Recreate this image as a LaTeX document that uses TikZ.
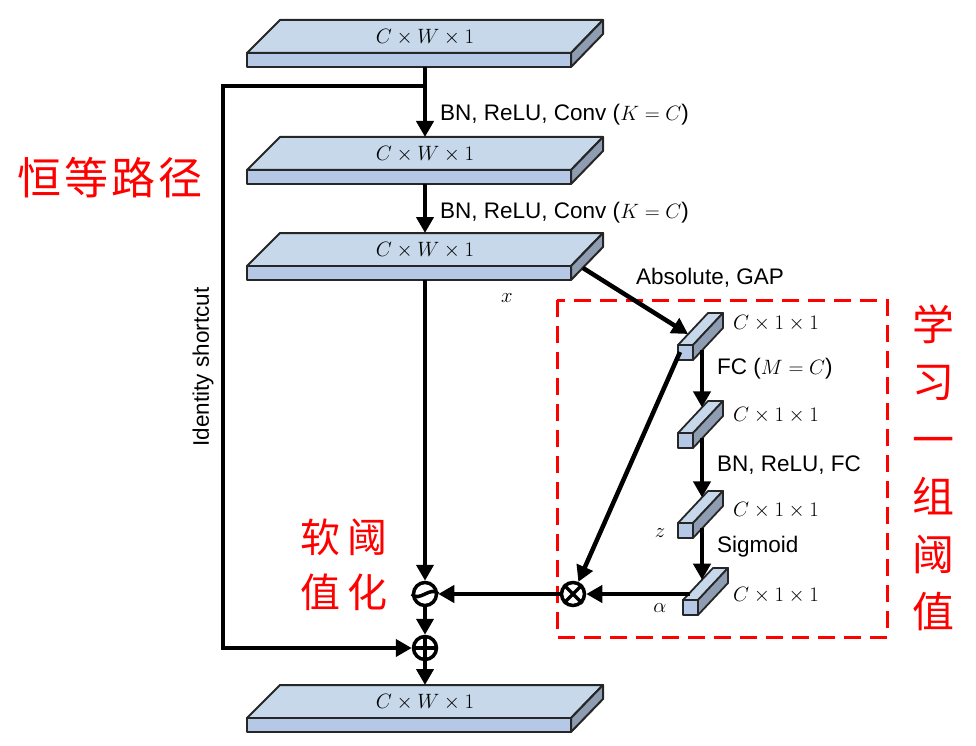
\documentclass[tikz,border=0pt]{standalone}
\usepackage{fontspec}
\setmainfont{Liberation Sans}
\newfontfamily\cjk{Noto Sans CJK SC}
\usepackage{tikz}
\usepackage{xcolor}
\usetikzlibrary{shapes,arrows.meta}

\definecolor{slabtop}{RGB}{198,216,234}
\definecolor{slabfront}{RGB}{181,201,230}
\definecolor{slabside}{RGB}{142,157,178}

\tikzset{
  face/.style={draw=black!85, line width=2pt, line join=round},
  barface/.style={draw=black!85, line width=1.8pt, line join=round},
  flow/.style={line width=4.5pt, ->},
  opnode/.style={circle, draw, line width=3.5pt, minimum size=23pt, inner sep=0pt},
  lbl/.style={font=\fontsize{22.5}{26}\selectfont, inner sep=0pt},
  redtxt/.style={text=red, align=center, inner sep=0pt},
}

% feature map slab: name, y of front top edge
\newcommand{\featslab}[2]{%
  \filldraw[face, fill=slabtop] (247,#2) -- (571,#2) -- (603,#2-33) -- (280,#2-33) -- cycle;
  \filldraw[face, fill=slabfront] (247,#2) rectangle (571,#2+14);
  \filldraw[face, fill=slabside] (571,#2) -- (603,#2-33) -- (603,#2-19) -- (571,#2+14) -- cycle;
  \coordinate (#1-top) at (425,#2-33);
  \coordinate (#1-bot) at (425,#2+14);
  \node[lbl] (#1) at (425,#2-16) {$C\times W\times 1$};
}

% threshold bar: name, x and y of front face corner
\newcommand{\featbar}[3]{%
  \filldraw[barface, fill=slabtop] (#2,#3) -- (#2+15,#3) -- (#2+45,#3-32) -- (#2+30,#3-32) -- cycle;
  \filldraw[barface, fill=slabfront] (#2,#3) rectangle (#2+15,#3+15);
  \filldraw[barface, fill=slabside] (#2+15,#3) -- (#2+45,#3-32) -- (#2+45,#3-17) -- (#2+15,#3+15) -- cycle;
  \pgfmathsetmacro{\barin}{#3-(702-#2)*32/30}
  \pgfmathsetmacro{\barout}{#3+15-(702-#2-15)*32/30}
  \coordinate (#1-in) at (702,\barin);
  \coordinate (#1-out) at (702,\barout);
}

\begin{document}
\begin{tikzpicture}[x=1pt, y=-1pt, >={Triangle[length=16pt,width=17pt]}]
                \useasboundingbox (0,0) rectangle (976,746);

                % threshold sub-network box
                \draw[red, line width=3pt, dash pattern=on 17pt off 9pt] (557,300) rectangle (887,637);

                % Draw slabs
                \featslab{s1}{53}
                \featslab{s2}{170}
                \featslab{s3}{266}
                \featslab{s4}{718}

                % Draw bars
                \featbar{b1}{678}{345}
                \featbar{b2}{678}{433}
                \featbar{b3}{678}{523}
                \featbar{b4}{683}{600}

                % operators
                \node[opnode] (sim) at (425,594) {};
                \node[opnode] (times) at (573,594) {};
                \node[opnode] (plus) at (425,648) {};
                \draw[line width=3.5pt] (sim.west) .. controls (419,603) and (431,585) .. (sim.east);
                \draw[line width=3.5pt] (times.45) -- (times.225) (times.135) -- (times.315);
                \draw[line width=3.5pt] (plus.north) -- (plus.south) (plus.west) -- (plus.east);

                % main path
                \coordinate (split) at (425,86);
                \draw[flow] (s1-bot) -- (s2-top);
                \draw[flow] (s2-bot) -- (s3-top);
                \draw[flow] (s3-bot) -- (sim);
                \draw[flow] (sim) -- (plus);
                \draw[flow] (plus) -- (s4-top);

                % identity shortcut
                \coordinate (sc-top) at (223,86);
                \coordinate (sc-bot) at (223,648);
                \draw[flow] (split) -- (sc-top) -- (sc-bot) -- (plus);

                % threshold branch
                \coordinate (gap-start) at (583,268);
                \coordinate (b1-tip) at (688,334);
                \coordinate (b1-corner) at (680,352);
                \coordinate (b4-left) at (690,594);
                \draw[flow] (gap-start) -- (b1-tip);
                \draw[flow] (b1-out) -- (b2-in);
                \draw[flow] (b2-out) -- (b3-in);
                \draw[flow] (b3-out) -- (b4-in);
                \draw[flow] (b4-left) -- (times);
                \draw[flow] (b1-corner) -- (times);
                \draw[flow] (times) -- (sim);

                % labels
                \node[lbl, anchor=west] (conv1) at (440,115) {BN, ReLU, Conv ($K=C$)};
                \node[lbl, anchor=west] (conv2) at (440,213) {BN, ReLU, Conv ($K=C$)};
                \node[lbl] (gap) at (710,278) {Absolute, GAP};
                \node[lbl] (xlbl) at (507,298) {$x$};
                \node[lbl, anchor=west] (b1-lbl) at (733,323) {$C\times 1\times 1$};
                \node[lbl, anchor=west] (b2-lbl) at (733,415) {$C\times 1\times 1$};
                \node[lbl, anchor=west] (b3-lbl) at (733,510) {$C\times 1\times 1$};
                \node[lbl, anchor=west] (b4-lbl) at (733,595) {$C\times 1\times 1$};
                \node[lbl, anchor=west] (fc1) at (717,369) {FC ($M=C$)};
                \node[lbl, anchor=west] (fc2) at (717,465) {BN, ReLU, FC};
                \node[lbl, anchor=west] (sig) at (717,547) {Sigmoid};
                \node[lbl] (zlbl) at (660,533) {$z$};
                \node[lbl] (alpha) at (660,608) {$\alpha$};
                \node[lbl, rotate=90] (idlbl) at (203,367) {Identity shortcut};

                % red notes
                \node[redtxt, font=\cjk\fontsize{44}{50}\selectfont] (idpath) at (110,178) {恒\hspace{3pt}等\hspace{3pt}路\hspace{3pt}径};
                \node[redtxt, font=\cjk\fontsize{40}{55}\selectfont] (soft) at (344,565) {软\hspace{7pt}阈\\值\hspace{7pt}化};
                \node[redtxt, font=\cjk\fontsize{42}{57.5}\selectfont] (learn) at (933,468) {学\\习\\一\\组\\阈\\值};
            \end{tikzpicture}
\end{document}
